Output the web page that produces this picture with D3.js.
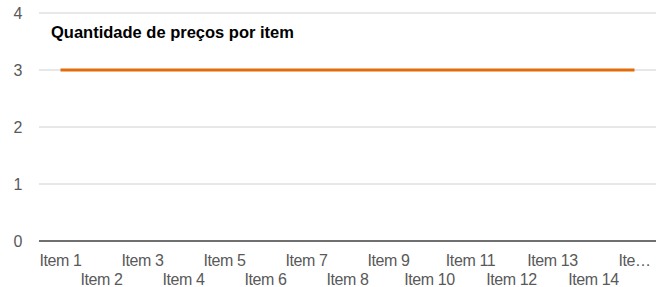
<!DOCTYPE html>
<html>
<head>
<meta charset="utf-8">
<style>
  body { margin: 0; background: #fff; }
  svg text { font-family: "Liberation Sans", Arial, sans-serif; }
</style>
</head>
<body>
<svg id="chart"></svg>
<script src="https://cdn.jsdelivr.net/npm/d3@7"></script>
<script>
const categories = ["Item 1","Item 2","Item 3","Item 4","Item 5","Item 6","Item 7","Item 8",
  "Item 9","Item 10","Item 11","Item 12","Item 13","Item 14","Item 15"];
const values = [3,3,3,3,3,3,3,3,3,3,3,3,3,3,3];
const yTicks = [0,1,2,3,4];
const title = "Quantidade de preços por item";

const width = 660, height = 287;
const svg = d3.select("#chart").attr("width", width).attr("height", height);

const x = d3.scaleBand().domain(categories).range([40, 655]);
const y = d3.scaleLinear().domain([0, 4]).range([241, 13]);

// grid
svg.selectAll("line.grid").data(yTicks.filter(d => d > 0)).enter().append("line")
  .attr("x1", 39).attr("x2", 656)
  .attr("y1", d => y(d)).attr("y2", d => y(d))
  .attr("stroke", "#d0d0d0").attr("stroke-width", 1);

// y labels
svg.selectAll("text.ylab").data(yTicks).enter().append("text")
  .attr("x", 18).attr("y", d => y(d) + 6)
  .attr("text-anchor", "middle")
  .attr("font-size", 16).attr("fill", "#595959")
  .text(d => d);

// baseline
svg.append("line").attr("x1", 39).attr("x2", 656)
  .attr("y1", y(0)).attr("y2", y(0))
  .attr("stroke", "#404040").attr("stroke-width", 1.5);

// x labels, staggered
svg.selectAll("text.xlab").data(categories).enter().append("text")
  .attr("x", d => x(d) + x.bandwidth() / 2)
  .attr("y", (d, i) => i % 2 === 0 ? 266 : 285)
  .attr("text-anchor", "middle")
  .attr("font-size", 16).attr("fill", "#595959")
  .attr("letter-spacing", -0.4)
  .text((d, i) => i === categories.length - 1 ? "Ite…" : d);

// line
const line = d3.line()
  .x((d, i) => x(categories[i]) + x.bandwidth() / 2)
  .y(d => y(d));
svg.append("path").datum(values)
  .attr("d", line)
  .attr("fill", "none")
  .attr("stroke", "#E36C0A")
  .attr("stroke-width", 3);

// title
svg.append("text").attr("x", 51).attr("y", 38)
  .attr("font-size", 16.5).attr("font-weight", "bold").attr("fill", "#000")
  .text(title);
</script>
</body>
</html>
